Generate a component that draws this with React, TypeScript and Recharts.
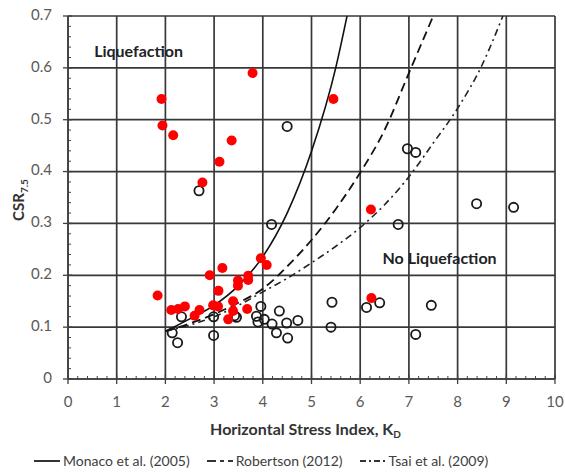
import React from 'react';
import {
  ComposedChart,
  Line,
  Scatter,
  XAxis,
  YAxis,
  CartesianGrid,
  ReferenceDot,
} from 'recharts';

// liquefaction cases (red filled)
const liquefied = [
  { x: 1.92, y: 0.54 }, { x: 1.94, y: 0.489 }, { x: 2.16, y: 0.47 }, { x: 3.79, y: 0.59 },
  { x: 3.36, y: 0.46 }, { x: 3.11, y: 0.419 }, { x: 2.76, y: 0.379 }, { x: 5.45, y: 0.54 },
  { x: 6.22, y: 0.327 }, { x: 6.23, y: 0.156 }, { x: 3.96, y: 0.233 }, { x: 4.08, y: 0.22 },
  { x: 3.17, y: 0.214 }, { x: 2.91, y: 0.2 }, { x: 3.7, y: 0.199 }, { x: 3.49, y: 0.19 },
  { x: 3.7, y: 0.191 }, { x: 3.49, y: 0.18 }, { x: 3.09, y: 0.17 }, { x: 1.84, y: 0.161 },
  { x: 2.12, y: 0.133 }, { x: 2.26, y: 0.135 }, { x: 2.4, y: 0.14 }, { x: 2.6, y: 0.122 },
  { x: 2.7, y: 0.133 }, { x: 2.98, y: 0.142 }, { x: 3.08, y: 0.14 }, { x: 3.39, y: 0.15 },
  { x: 3.39, y: 0.131 }, { x: 3.68, y: 0.135 }, { x: 3.29, y: 0.115 },
];

// no liquefaction cases (open circles)
const notLiquefied = [
  { x: 2.69, y: 0.363 }, { x: 4.5, y: 0.487 }, { x: 6.97, y: 0.444 }, { x: 7.14, y: 0.437 },
  { x: 4.18, y: 0.298 }, { x: 6.78, y: 0.298 }, { x: 8.39, y: 0.338 }, { x: 9.15, y: 0.331 },
  { x: 5.42, y: 0.148 }, { x: 6.13, y: 0.138 }, { x: 6.4, y: 0.147 }, { x: 7.46, y: 0.142 },
  { x: 5.4, y: 0.1 }, { x: 7.14, y: 0.086 }, { x: 2.33, y: 0.12 }, { x: 2.14, y: 0.089 },
  { x: 2.25, y: 0.07 }, { x: 2.99, y: 0.12 }, { x: 2.99, y: 0.084 }, { x: 3.42, y: 0.122 },
  { x: 3.46, y: 0.119 }, { x: 3.96, y: 0.14 }, { x: 3.87, y: 0.121 }, { x: 3.9, y: 0.11 },
  { x: 4.03, y: 0.115 }, { x: 4.19, y: 0.106 }, { x: 4.34, y: 0.131 }, { x: 4.28, y: 0.089 },
  { x: 4.49, y: 0.108 }, { x: 4.51, y: 0.079 }, { x: 4.72, y: 0.113 },
];

const monaco = [
  { x: 2.0, y: 0.092 }, { x: 2.5, y: 0.116 }, { x: 3.0, y: 0.142 }, { x: 3.5, y: 0.18 },
  { x: 4.0, y: 0.236 }, { x: 4.5, y: 0.32 }, { x: 5.0, y: 0.439 }, { x: 5.5, y: 0.601 },
  { x: 5.73, y: 0.7 },
];

const robertson = [
  { x: 2.0, y: 0.092 }, { x: 2.5, y: 0.107 }, { x: 3.0, y: 0.125 }, { x: 3.5, y: 0.147 },
  { x: 4.0, y: 0.174 }, { x: 4.5, y: 0.217 }, { x: 5.0, y: 0.268 }, { x: 5.5, y: 0.328 },
  { x: 6.0, y: 0.398 }, { x: 6.5, y: 0.48 }, { x: 7.0, y: 0.59 }, { x: 7.5, y: 0.7 },
];

const tsai = [
  { x: 2.0, y: 0.092 }, { x: 2.5, y: 0.104 }, { x: 3.0, y: 0.12 }, { x: 3.5, y: 0.142 },
  { x: 4.0, y: 0.168 }, { x: 4.5, y: 0.194 }, { x: 5.0, y: 0.224 }, { x: 5.5, y: 0.256 },
  { x: 6.0, y: 0.292 }, { x: 6.5, y: 0.336 }, { x: 7.0, y: 0.39 }, { x: 7.5, y: 0.455 },
  { x: 8.0, y: 0.522 }, { x: 8.5, y: 0.605 }, { x: 8.93, y: 0.7 },
];

const xMajor = [0, 1, 2, 3, 4, 5, 6, 7, 8, 9, 10];
const yMajor = [0, 0.1, 0.2, 0.3, 0.4, 0.5, 0.6, 0.7];
const xMinor = Array.from({ length: 51 }, (_, i) => Number((i * 0.2).toFixed(1)));
const yMinor = Array.from({ length: 36 }, (_, i) => Number((i * 0.02).toFixed(2)));

const legendItems = [
  { name: 'Monaco et al. (2005)', dash: '' },
  { name: 'Robertson (2012)', dash: '9 4 4 4' },
  { name: 'Tsai et al. (2009)', dash: '6 3 2 3' },
];

const FONT = 'Lato, "Open Sans", sans-serif';
const AXIS = '#404040';

const isMajor = (v: number, step: number) => Math.abs(v / step - Math.round(v / step)) < 1e-6;

const XTick = (props: any) => {
  const { x, y, payload } = props;
  const v = payload.value;
  const major = isMajor(v, 1);
  return (
    <g>
      {major ? (
        <line x1={x} x2={x} y1={y - 4} y2={y + 5} stroke={AXIS} strokeWidth={1.3} />
      ) : (
        <line x1={x} x2={x} y1={y - 3} y2={y} stroke={AXIS} strokeWidth={1} />
      )}
      {major && (
        <text x={x} y={y + 24} textAnchor="middle" dominantBaseline="middle" fill="#595959" fontSize={15} fontFamily={FONT}>
          {v}
        </text>
      )}
    </g>
  );
};

const YTick = (props: any) => {
  const { x, y, payload } = props;
  const v = payload.value;
  const major = isMajor(v, 0.1);
  return (
    <g>
      {major ? (
        <line x1={x - 5} x2={x + 4} y1={y} y2={y} stroke={AXIS} strokeWidth={1.3} />
      ) : (
        <line x1={x} x2={x + 3} y1={y} y2={y} stroke={AXIS} strokeWidth={1} />
      )}
      {major && (
        <text x={x - 16} y={y} textAnchor="end" dominantBaseline="middle" fill="#595959" fontSize={15} fontFamily={FONT}>
          {v === 0 ? '0' : v.toFixed(1)}
        </text>
      )}
    </g>
  );
};

const RedDot = (props: any) => <circle cx={props.cx} cy={props.cy} r={5} fill="#ff0000" />;
const OpenDot = (props: any) => (
  <circle cx={props.cx} cy={props.cy} r={4.6} fill="none" stroke="#1a1a1a" strokeWidth={1.8} />
);

export default function App() {
  return (
    <div style={{ position: 'absolute', left: 0, top: 0, width: 565, height: 472, background: '#fff' }}>
      <ComposedChart width={565} height={472} margin={{ top: 16, right: 10, bottom: 60, left: 0 }}>
        <CartesianGrid
          stroke="#383838"
          strokeWidth={1.7}
          horizontalValues={yMajor}
          verticalValues={xMajor}
        />
        <XAxis
          type="number"
          dataKey="x"
          domain={[0, 10]}
          ticks={xMinor}
          interval={0}
          tickSize={0}
          tickMargin={0}
          tick={<XTick />}
          height={33}
          stroke={AXIS}
          strokeWidth={1.4}
          label={{
            content: (p: any) => {
              const vb = p.viewBox;
              return (
                <text x={vb.x + vb.width / 2 - 6} y={vb.y + 56} textAnchor="middle" fill="#333" fontSize={16} fontWeight="bold" fontFamily={FONT}>
                  Horizontal Stress Index, K<tspan fontSize={10} dy={3}>D</tspan>
                </text>
              );
            },
          }}
        />
        <YAxis
          type="number"
          dataKey="y"
          domain={[0, 0.7]}
          ticks={yMinor}
          interval={0}
          tickSize={0}
          tickMargin={0}
          tick={<YTick />}
          width={68}
          stroke={AXIS}
          strokeWidth={1.4}
          label={{
            content: () => (
              <text transform="translate(24,200) rotate(-90)" textAnchor="middle" fill="#333" fontSize={15} fontWeight="bold" fontFamily={FONT}>
                CSR<tspan fontSize={10} dy={4}>7.5</tspan>
              </text>
            ),
          }}
        />
        <Line data={monaco} dataKey="y" type="monotone" dot={false} stroke="#111" strokeWidth={1.6} isAnimationActive={false} />
        <Line data={robertson} dataKey="y" type="monotone" dot={false} stroke="#111" strokeWidth={1.8} strokeDasharray="9 5" isAnimationActive={false} />
        <Line data={tsai} dataKey="y" type="monotone" dot={false} stroke="#222" strokeWidth={1.6} strokeDasharray="7 4 2 4" isAnimationActive={false} />
        <Scatter data={notLiquefied} dataKey="y" shape={<OpenDot />} isAnimationActive={false} />
        <Scatter data={liquefied} dataKey="y" shape={<RedDot />} isAnimationActive={false} />
        <ReferenceDot
          x={1.45}
          y={0.631}
          r={0}
          fill="none"
          stroke="none"
          label={{ value: 'Liquefaction', position: 'center', fill: '#222', fontSize: 16, fontWeight: 'bold', fontFamily: FONT }}
        />
        <ReferenceDot
          x={7.63}
          y={0.232}
          r={0}
          fill="none"
          stroke="none"
          label={{ value: 'No Liquefaction', position: 'center', fill: '#222', fontSize: 16, fontWeight: 'bold', fontFamily: FONT }}
        />
      </ComposedChart>
      <div
        style={{
          position: 'absolute',
          top: 452,
          left: 34,
          display: 'flex',
          gap: 17,
          fontFamily: FONT,
          fontSize: 14,
          color: '#404040',
        }}
      >
        {legendItems.map((it) => (
          <div key={it.name} style={{ display: 'flex', alignItems: 'center' }}>
            <svg width={26} height={10}>
              <line x1={0} x2={26} y1={5} y2={5} stroke="#333" strokeWidth={2} strokeDasharray={it.dash || undefined} />
            </svg>
            <span style={{ marginLeft: 3 }}>{it.name}</span>
          </div>
        ))}
      </div>
    </div>
  );
}
